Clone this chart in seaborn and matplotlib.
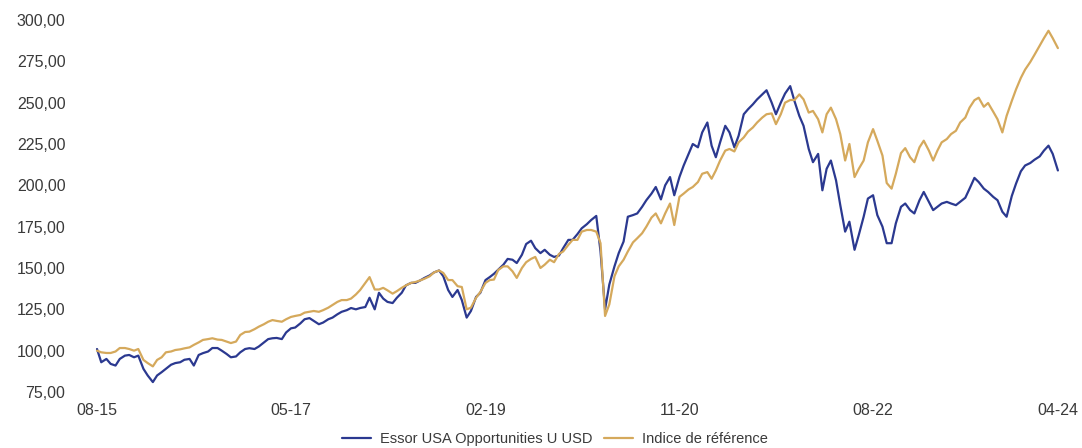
import seaborn as sns
import matplotlib.pyplot as plt
import matplotlib.dates as mdates
import matplotlib.ticker as mticker
import pandas as pd

# DATA (semi-monthly)
start_date = "2015-08-01"

fund_values = [101, 93, 95, 92, 91, 95, 97, 97.4, 96, 97,
               89, 85, 81, 85, 87, 89, 91.5, 92.5, 93, 94.5,
               95, 91, 97.4, 98.5, 99.5, 101.6, 101.6, 100, 98, 96,
               96.5, 99, 101, 101.5, 101, 102.5, 105, 107, 107.5, 107.7,
               107, 111, 113.5, 114, 116.5, 119, 119.7, 118, 116, 117,
               119, 120, 122, 123.5, 124.5, 125.8, 125, 125.8, 126.4, 132,
               125, 135, 131.5, 129.5, 128.8, 132, 135, 139.5, 141, 141,
               142.5, 144, 145.5, 147.3, 148.5, 145, 136.7, 132.5, 136.7, 130.6,
               120, 124, 132.5, 135, 142.7, 144.5, 146.5, 149, 152, 155.5,
               155, 153, 158, 164.5, 166.5, 162, 159, 161, 158, 156.7,
               157.5, 162, 167, 167, 170.5, 174, 176.5, 179, 181.5, 160,
               125, 140, 151, 159, 166, 181, 182, 183, 187, 191,
               195, 199, 191.5, 200, 205, 194, 205, 212, 219, 225,
               223, 232, 238, 224, 217, 226, 236, 232, 223, 230,
               243, 246, 249, 252, 255, 257.5, 250, 243, 250, 255.5,
               260, 251, 242, 236, 222, 214, 219, 197, 210, 215,
               203, 188, 172, 178, 161, 170, 181, 192, 194, 182,
               175, 165, 165, 177, 187, 189, 185, 183, 191, 196,
               190, 185, 187, 189, 190, 189, 188, 190, 192.5, 198,
               204.5, 202, 198, 196, 193, 191, 184, 181, 193.5, 201,
               208.5, 212, 213.5, 215.5, 217.5, 221, 224, 219, 209]

index_values = [100, 99, 98.6, 98.6, 99.5, 101.6, 101.6, 101, 100, 101,
                94.4, 92.5, 90.5, 94.4, 96, 99, 99.5, 100.4, 100.8, 101.4,
                102, 103.5, 105, 106.5, 107, 107.5, 106.7, 106.5, 105.5, 104.6,
                105.5, 109.5, 111.3, 111.5, 113, 114.5, 116, 117.5, 118.5, 118,
                117.5, 119, 120.4, 121, 121.6, 123, 123.5, 124, 123.5, 124.5,
                126, 127.6, 129.5, 130.6, 130.6, 131.5, 134, 136.7, 141, 144.5,
                137, 137, 138, 136.5, 134.5, 136, 138, 139.5, 141, 141.5,
                142.5, 143.5, 145, 147.3, 148.5, 147, 142.7, 142.7, 139, 138.5,
                125, 126, 132, 135.5, 141, 142.7, 143, 148.8, 151, 151,
                148, 144, 150, 153.5, 155.5, 156.7, 150, 152, 155, 153.5,
                158.5, 160, 164, 167, 167, 172, 173, 173, 172, 165,
                121, 128, 145, 151, 155, 160, 165.5, 168, 171, 175,
                180.5, 183, 177, 183, 189, 176, 193, 195, 197.5, 199,
                202, 207, 208, 204, 209, 215, 221, 222, 220.5, 226,
                229, 232.5, 235, 238, 241, 243, 243.5, 237, 243, 250,
                251.6, 251.6, 255, 252, 244, 245, 240, 232, 243, 247,
                240, 231, 215, 225, 205, 210, 215, 226, 234, 227,
                218, 201.4, 198, 207, 219.5, 222.5, 217, 214, 223, 227,
                221, 215, 221, 226, 228, 231, 233, 238, 241, 247,
                251.5, 253, 247.5, 249.8, 244.5, 240, 232, 242, 251, 258,
                265, 270, 274.6, 279, 284.5, 289, 293.5, 289, 283]

series_names = ["Essor USA Opportunities U USD", "Indice de référence"]
tick_dates = ["2015-08-01", "2017-05-01", "2019-02-01", "2020-11-01", "2022-08-01", "2024-04-01"]
y_ticks = [75, 100, 125, 150, 175, 200, 225, 250, 275, 300]

dates = pd.date_range(start_date, periods=len(fund_values), freq="SMS")
df_plot = pd.concat([
    pd.DataFrame({"date": dates, "value": fund_values, "serie": series_names[0]}),
    pd.DataFrame({"date": dates, "value": index_values, "serie": series_names[1]}),
], ignore_index=True)

# PLOTTING
sns.set_style("white")
plt.rcParams['font.family'] = ['Liberation Sans', 'DejaVu Sans']

fig = plt.figure(figsize=(10.82, 4.48), dpi=100)
ax = fig.add_axes([87.6 / 1082, 56 / 448, (1067 - 87.6) / 1082, 372 / 448])

palette = {series_names[0]: "#2b3990", series_names[1]: "#d5a95c"}
sns.lineplot(data=df_plot, x="date", y="value", hue="serie", palette=palette,
             linewidth=1.6, ax=ax, legend=False)

ax.set_xlim(pd.Timestamp("2015-07-01"), pd.Timestamp("2024-05-01"))
ax.set_ylim(75, 300)
ax.set_xticks(pd.to_datetime(tick_dates))
ax.xaxis.set_major_formatter(mdates.DateFormatter('%m-%y'))
ax.set_yticks(y_ticks)
ax.yaxis.set_major_formatter(mticker.FuncFormatter(lambda v, p: f"{v:.2f}".replace(".", ",")))
ax.tick_params(axis="both", length=0, labelsize=11.5, labelcolor="#3a3a3a")
ax.tick_params(axis="y", pad=16)
ax.tick_params(axis="x", pad=8)
ax.set_xlabel("")
ax.set_ylabel("")
sns.despine(ax=ax, left=True, bottom=True)

# legend at the bottom
handles = [plt.Line2D([], [], color=palette[s], linewidth=1.6) for s in series_names]
fig.legend(handles, series_names, loc="lower center", bbox_to_anchor=(0.513, -0.024),
           ncol=2, frameon=False, fontsize=10.5, handlelength=2.0, columnspacing=0.8,
           handletextpad=0.6, labelcolor="#3a3a3a")

fig.savefig("out.png", dpi=100)
